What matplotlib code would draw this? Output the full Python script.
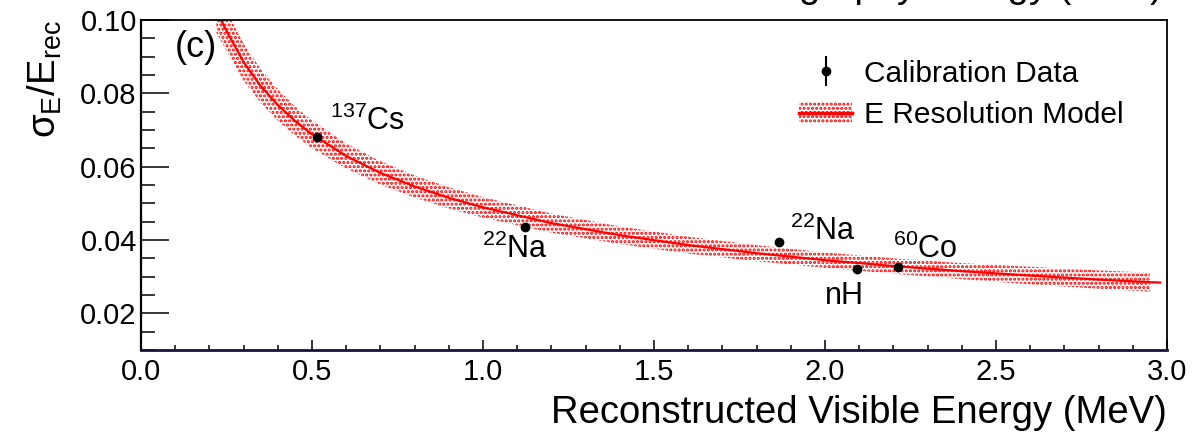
import matplotlib
matplotlib.use("Agg")
import matplotlib.pyplot as plt
from matplotlib.patches import Patch
from matplotlib.lines import Line2D
from matplotlib.ticker import MultipleLocator, FormatStrFormatter
import numpy as np

plt.rcParams['font.family'] = ['Liberation Sans', 'DejaVu Sans']
plt.rcParams['mathtext.fontset'] = 'custom'
plt.rcParams['mathtext.rm'] = 'Liberation Sans'
plt.rcParams['mathtext.default'] = 'regular'
plt.rcParams['hatch.linewidth'] = 1.5

# calibration points (energy in MeV, resolution sigma/E)
calib_e = [0.514, 1.124, 1.866, 2.094, 2.214]
calib_res = [0.0682, 0.0435, 0.0394, 0.0321, 0.0326]
calib_err = [0.0008, 0.0006, 0.0006, 0.0005, 0.0005]
calib_names = [r'$^{137}$Cs', r'$^{22}$Na', r'$^{22}$Na', 'nH', r'$^{60}$Co']
name_x = [0.553, 0.997, 1.898, 2.000, 2.199]
name_y = [0.0700, 0.0351, 0.0400, 0.0225, 0.0351]

# resolution model curve and its band
model_e = [0.22, 0.25, 0.30, 0.35, 0.40, 0.45, 0.50, 0.60, 0.70, 0.80, 0.90, 1.00,
           1.20, 1.40, 1.60, 1.80, 2.00, 2.20, 2.40, 2.60, 2.80, 2.95, 2.98]
model_res = [0.1025, 0.0970, 0.0885, 0.0820, 0.0768, 0.0725, 0.0688, 0.0629, 0.0583,
             0.0546, 0.0515, 0.0489, 0.0446, 0.0413, 0.0386, 0.0364, 0.0345, 0.0329,
             0.0315, 0.0303, 0.0292, 0.0285, 0.0284]
model_err = [0.0058, 0.0055, 0.0050, 0.0046, 0.0043, 0.0040, 0.0038, 0.0034, 0.0032,
             0.0030, 0.0029, 0.0028, 0.0026, 0.0024, 0.0023, 0.0022, 0.0021, 0.0021,
             0.0022, 0.0024, 0.0025, 0.0026, 0.0026]

fig = plt.figure(figsize=(12.01, 4.33), dpi=100)
ax = fig.add_axes([0.1174, 0.1917, 0.8543, 0.7621])

e = np.array(model_e)
r = np.array(model_res)
w = np.array(model_err)
ax.fill_between(e, r - w, r + w, where=e <= 2.95, facecolor='none', edgecolor='red',
                hatch='....', linewidth=0, zorder=1)
ax.plot(e, r, color='red', lw=1.6, zorder=2)

pts = ax.errorbar(calib_e, calib_res, yerr=calib_err, fmt='o', color='black', ms=6,
                  elinewidth=1.5, capsize=0, zorder=3)

for n, x, y in zip(calib_names, name_x, name_y):
    ax.text(x, y, n, fontsize=22, ha='left', va='baseline')

ax.text(0.099, 0.0924, '(c)', fontsize=26, ha='left', va='center')

ax.set_xlim(0, 3.0)
ax.set_ylim(0.01, 0.10)
ax.xaxis.set_major_locator(MultipleLocator(0.5))
ax.xaxis.set_minor_locator(MultipleLocator(0.1))
ax.yaxis.set_major_locator(MultipleLocator(0.02))
ax.yaxis.set_minor_locator(MultipleLocator(0.005))
ax.xaxis.set_major_formatter(FormatStrFormatter('%.1f'))
ax.yaxis.set_major_formatter(FormatStrFormatter('%.2f'))

ax.tick_params(axis='x', which='major', direction='in', length=7, width=1.1,
               labelsize=21, pad=6)
ax.tick_params(axis='x', which='minor', direction='in', length=3.3, width=1.1)
ax.tick_params(axis='y', which='major', direction='in', length=20, width=1.1,
               labelsize=21, pad=3)
ax.tick_params(axis='y', which='minor', direction='in', length=10, width=1.1)

for s in ['top', 'right']:
    ax.spines[s].set_linewidth(1.3)
ax.spines['left'].set_linewidth(1.6)
ax.spines['bottom'].set_linewidth(2.0)
ax.spines['bottom'].set_color('#14143c')

ax.set_xlabel('Reconstructed Visible Energy (MeV)', fontsize=27.5, loc='right', labelpad=6)
ax.set_ylabel(r'σ$_{E}$/E$_{rec}$', fontsize=27.5, loc='top', labelpad=12)

# clipped label of the panel above, only its lower edge shows
fig.text(1163 / 1201, 1 + 3 / 433, 'graphy Energy (MeV)', fontsize=27.5,
         ha='right', va='baseline')

h_band = Patch(facecolor='none', edgecolor='red', hatch='....', linewidth=0)
h_line = Line2D([], [], color='red', lw=2.5)
leg = ax.legend([pts, (h_band, h_line)],
                ['Calibration Data', 'E Resolution Model'],
                loc='upper left', bbox_to_anchor=(0.641, 0.88), frameon=False,
                fontsize=21.5, handlelength=1.8, handletextpad=0.4,
                borderpad=0, borderaxespad=0, labelspacing=0.45)

fig.savefig('out.png', dpi=100)
